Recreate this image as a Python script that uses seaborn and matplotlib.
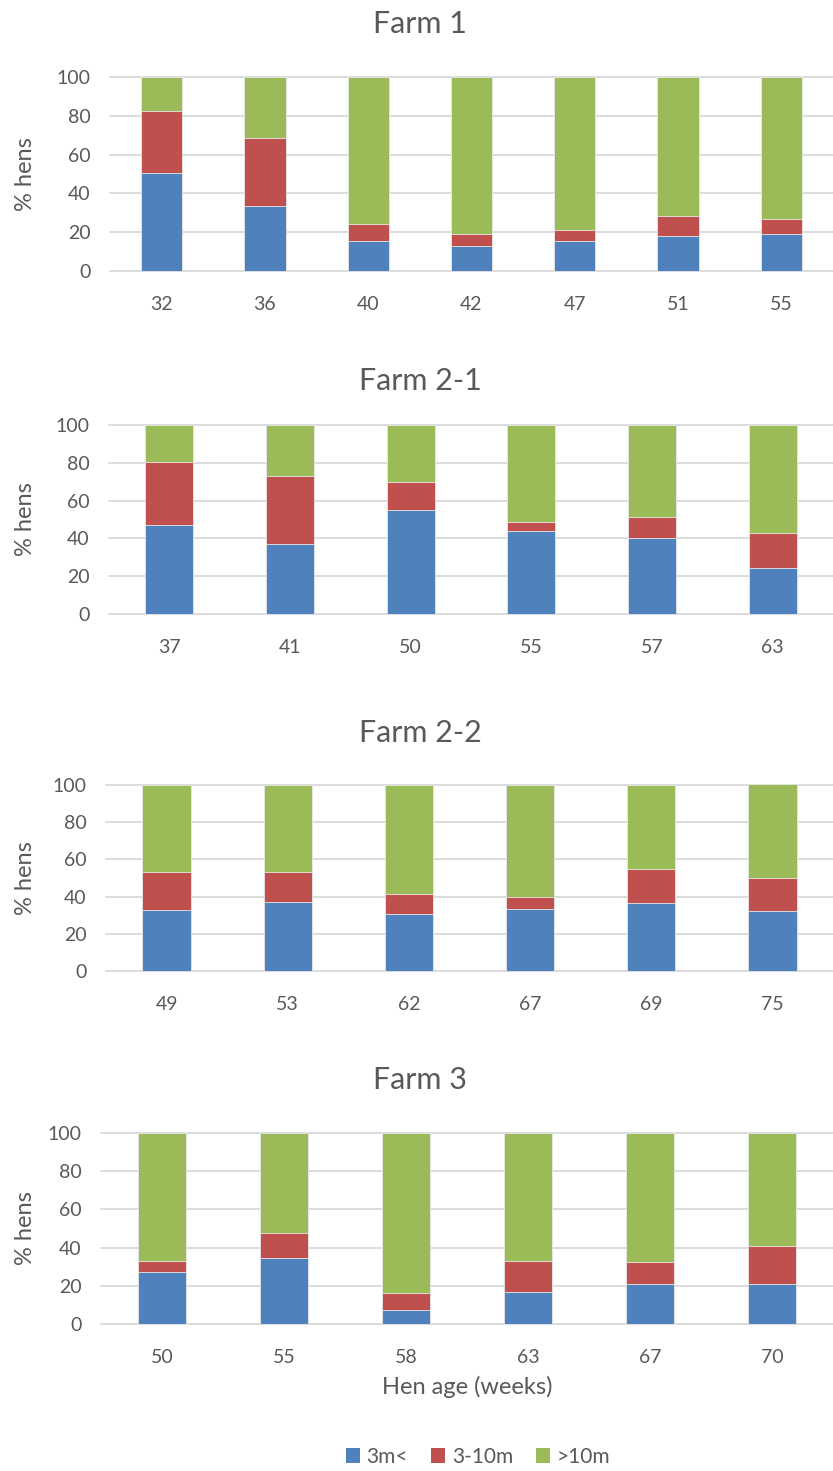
import matplotlib
matplotlib.use("Agg")
import matplotlib.pyplot as plt
from matplotlib.patches import Patch
import numpy as np
import pandas as pd
import seaborn as sns

# Share of hens by distance ranged from the house, per hen age (weeks)
bands = ["3m<", "3-10m", ">10m"]

farm1_ages = ["32", "36", "40", "42", "47", "51", "55"]
farm1_near = [50.3, 33.3, 15.6, 12.7, 15.5, 18.2, 19.1]
farm1_mid = [32.2, 35.1, 8.6, 6.4, 5.6, 10.3, 7.7]
farm1_far = [17.5, 31.6, 75.8, 80.9, 78.9, 71.5, 73.2]

farm21_ages = ["37", "41", "50", "55", "57", "63"]
farm21_near = [46.9, 36.8, 55.2, 43.9, 40.4, 24.4]
farm21_mid = [33.3, 36.3, 14.4, 4.8, 10.9, 18.4]
farm21_far = [19.8, 26.9, 30.4, 51.3, 48.7, 57.2]

farm22_ages = ["49", "53", "62", "67", "69", "75"]
farm22_near = [33.0, 37.3, 30.9, 33.6, 36.8, 32.3]
farm22_mid = [20.0, 16.0, 10.6, 6.1, 18.1, 17.8]
farm22_far = [47.0, 46.7, 58.5, 60.3, 45.1, 50.6]

farm3_ages = ["50", "55", "58", "63", "67", "70"]
farm3_near = [27.0, 34.3, 7.1, 16.6, 20.7, 20.7]
farm3_mid = [6.0, 13.3, 9.3, 16.4, 11.9, 20.2]
farm3_far = [67.0, 52.4, 83.6, 67.0, 67.4, 59.1]

colors = {"3m<": "#4F81BD", "3-10m": "#C0504D", ">10m": "#9BBB59"}
text_color = "#595959"
grid_color = "#D9D9D9"

sns.set_theme(style="white")
plt.rcParams["font.family"] = ["Lato", "DejaVu Sans"]

W, H = 833, 1471
fig = plt.figure(figsize=(W / 100, H / 100), dpi=100)

panels = [
    ("Farm 1", farm1_ages, farm1_near, farm1_mid, farm1_far, (110, 77, 271), 33),
    ("Farm 2-1", farm21_ages, farm21_near, farm21_mid, farm21_far, (109, 425, 614), 390),
    ("Farm 2-2", farm22_ages, farm22_near, farm22_mid, farm22_far, (106, 785, 971), 742),
    ("Farm 3", farm3_ages, farm3_near, farm3_mid, farm3_far, (101, 1133, 1324), 1089),
]


def stacked_frame(ages, near, mid, far):
    near = np.asarray(near)
    mid = np.asarray(mid)
    far = np.asarray(far)
    tops = {"3m<": near, "3-10m": near + mid, ">10m": near + mid + far}
    rows = []
    for band in bands:
        for age, top in zip(ages, tops[band]):
            rows.append({"age": age, "band": band, "top": top})
    return pd.DataFrame(rows)


for i, (title, ages, near, mid, far, (left, top_px, bot_px), base_px) in enumerate(panels):
    ax = fig.add_axes([left / W, 1 - bot_px / H, (W - left) / W, (bot_px - top_px) / H])
    df = stacked_frame(ages, near, mid, far)
    # tallest cumulative segment first so shorter ones sit on top of it
    sns.barplot(
        data=df, x="age", y="top", hue="band",
        hue_order=[">10m", "3-10m", "3m<"], order=ages,
        palette=colors, saturation=1, dodge=False, width=0.4,
        edgecolor="#E8E8E8", linewidth=0.6, ax=ax, legend=False,
    )
    for p in ax.patches:
        p.set_clip_on(False)
    ax.set_ylim(0, 100)
    ax.set_xlim(-0.5, len(ages) - 0.5)
    ax.set_yticks(range(0, 101, 20))
    ax.yaxis.grid(True, color=grid_color, linewidth=1.3)
    for gl in ax.get_ygridlines():
        gl.set_clip_on(False)
    ax.set_axisbelow(True)
    for s in ax.spines.values():
        s.set_visible(False)
    ax.tick_params(axis="both", length=0, labelsize=14, colors=text_color)
    ax.tick_params(axis="x", pad=18)
    ax.tick_params(axis="y", pad=14)
    ax.set_xlabel("")
    ax.set_ylabel("% hens", fontsize=17, color=text_color, va="center")
    ax.yaxis.set_label_coords((26 - left) / (W - left), 0.5)
    fig.text(420 / W, 1 - base_px / H, title, ha="center", va="baseline",
             fontsize=22, color=text_color)
    if i == len(panels) - 1:
        ax.set_xlabel("Hen age (weeks)", fontsize=17, color=text_color, labelpad=7)

handles = [Patch(facecolor=colors[b], edgecolor="none") for b in bands]
fig.legend(handles, bands, loc="center", bbox_to_anchor=(478 / W, 1 - 1457 / H),
           ncol=3, frameon=False, fontsize=15, labelcolor=text_color,
           handlelength=0.7, handleheight=0.7, handletextpad=0.3, columnspacing=1.1)

fig.savefig("out.png", dpi=100, facecolor="white")
